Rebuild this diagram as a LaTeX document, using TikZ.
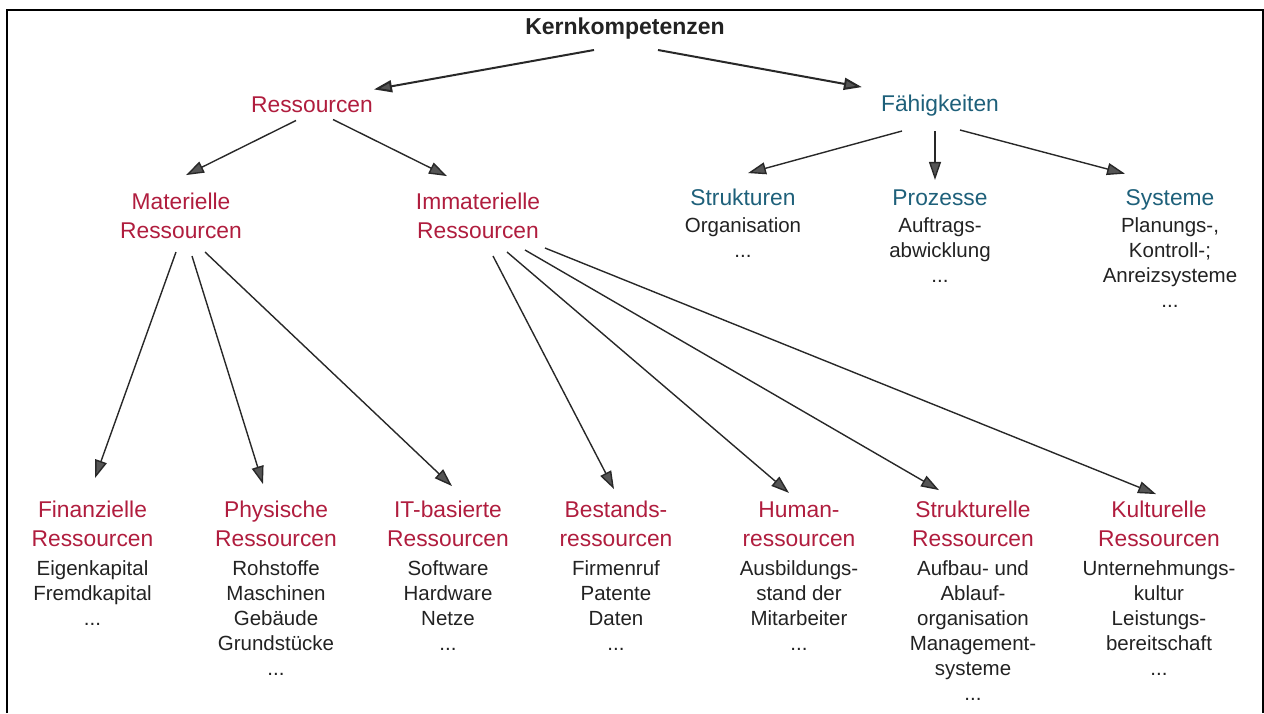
\documentclass[tikz,border=0pt]{standalone}
\usepackage{fontspec}
\setmainfont{Liberation Sans}
\usepackage{xcolor}
\usepackage{tikz}
\usetikzlibrary{arrows.meta,positioning}
\definecolor{resred}{RGB}{176,29,62}
\definecolor{capblue}{RGB}{30,96,122}
\definecolor{textblack}{RGB}{34,34,34}
\definecolor{linegrey}{RGB}{40,40,40}
\definecolor{tipgrey}{RGB}{85,85,85}
\tikzset{
  rootnode/.style={font=\bfseries\fontsize{23}{28}\selectfont,text=textblack,
    inner sep=0pt,text depth=0pt},
  resnode/.style={font=\fontsize{22.8}{29}\selectfont,text=resred,
    align=center,inner sep=0pt,text depth=0pt},
  capnode/.style={font=\fontsize{22.8}{29}\selectfont,text=capblue,
    align=center,inner sep=0pt,text depth=0pt},
  detail/.style={font=\fontsize{20.5}{25}\selectfont,text=textblack,
    align=center,inner sep=0pt},
  flow/.style={-{Triangle[length=18pt,width=12pt,fill=tipgrey]},
    line width=1.4pt,draw=linegrey},
  mainflow/.style={flow,line width=2pt},
  frame/.style={draw=black,line width=2pt}
}

\begin{document}
\begin{tikzpicture}[x=1pt,y=-1pt]
  \useasboundingbox (0,0) rectangle (1264,713);
  \draw[frame] (7,713) -- (7,10) -- (1263,10) -- (1263,713);
  % top levels
  \node[rootnode,anchor=south] (kern) at (625,35) {Kernkompetenzen};
  \node[resnode,anchor=south] (res) at (312,112.5) {Ressourcen};
  \node[capnode,anchor=south] (fae) at (940,112) {Fähigkeiten};
  \node[resnode,anchor=south] (mat) at (181,239) {Materielle\\Ressourcen};
  \node[resnode,anchor=south] (imm) at (478,239) {Immaterielle\\Ressourcen};
  % faehigkeiten
  \node[capnode,anchor=south] (strukt) at (743,206) {Strukturen};
  \node[detail,below=11pt of strukt] (struktx) {Organisation\\...};
  \node[capnode,anchor=south] (proz) at (940,206) {Prozesse};
  \node[detail,below=11pt of proz] (prozx) {Auftrags-\\abwicklung\\...};
  \node[capnode,anchor=south] (sys) at (1170,206) {Systeme};
  \node[detail,below=11pt of sys] (sysx) {Planungs-,\\Kontroll-;\\Anreizsysteme\\...};
  % ressourcen
  \node[resnode,anchor=south] (fin) at (92.5,547) {Finanzielle\\Ressourcen};
  \node[detail,below=13pt of fin] (finx) {Eigenkapital\\Fremdkapital\\...};
  \node[resnode,anchor=south] (phys) at (276,547) {Physische\\Ressourcen};
  \node[detail,below=13pt of phys] (physx) {Rohstoffe\\Maschinen\\Gebäude\\Grundstücke\\...};
  \node[resnode,anchor=south] (itb) at (448,547) {IT-basierte\\Ressourcen};
  \node[detail,below=13pt of itb] (itbx) {Software\\Hardware\\Netze\\...};
  \node[resnode,anchor=south] (best) at (616,547) {Bestands-\\ressourcen};
  \node[detail,below=13pt of best] (bestx) {Firmenruf\\Patente\\Daten\\...};
  \node[resnode,anchor=south] (hum) at (799,547) {Human-\\ressourcen};
  \node[detail,below=13pt of hum] (humx) {Ausbildungs-\\stand der\\Mitarbeiter\\...};
  \node[resnode,anchor=south] (strk) at (973,547) {Strukturelle\\Ressourcen};
  \node[detail,below=13pt of strk] (strkx) {Aufbau- und\\Ablauf-\\organisation\\Management-\\systeme\\...};
  \node[resnode,anchor=south] (kult) at (1159,547) {Kulturelle\\Ressourcen};
  \node[detail,below=13pt of kult] (kultx) {Unternehmungs-\\kultur\\Leistungs-\\bereitschaft\\...};
  % arrows
  \draw[mainflow] ([shift={(-31,15)}]kern.south) -- ([shift={(1,-7)}]res.north east);
  \draw[mainflow] ([shift={(33,15)}]kern.south) -- ([shift={(-19,-8)}]fae.north west);
  \draw[flow] ([shift={(-16,8)}]res.south) -- ([shift={(5,-18)}]mat.north);
  \draw[flow] ([shift={(21,7)}]res.south) -- ([shift={(-31,-17)}]imm.north);
  \draw[flow] ([shift={(-38,19)}]fae.south) -- ([shift={(5,-16)}]strukt.north);
  \draw[flow] ([shift={(-5,19)}]fae.south) -- ([shift={(-5,-10)}]proz.north);
  \draw[flow] ([shift={(20,18)}]fae.south) -- ([shift={(-45,-16)}]sys.north);
  \draw[flow] ([shift={(-5,13)}]mat.south) -- ([shift={(2.5,-23)}]fin.north);
  \draw[flow] ([shift={(11,17)}]mat.south) -- ([shift={(-13,-17)}]phys.north);
  \draw[flow] ([shift={(24,13)}]mat.south) -- ([shift={(4,-15)}]itb.north);
  \draw[flow] ([shift={(15,17)}]imm.south) -- ([shift={(-2,-12)}]best.north);
  \draw[flow] ([shift={(29,13)}]imm.south) -- ([shift={(-10,-9)}]hum.north);
  \draw[flow] ([shift={(47,11)}]imm.south) -- ([shift={(-34,-11)}]strk.north);
  \draw[flow] ([shift={(67,9)}]imm.south) -- ([shift={(-3,-7)}]kult.north);
\end{tikzpicture}
\end{document}
